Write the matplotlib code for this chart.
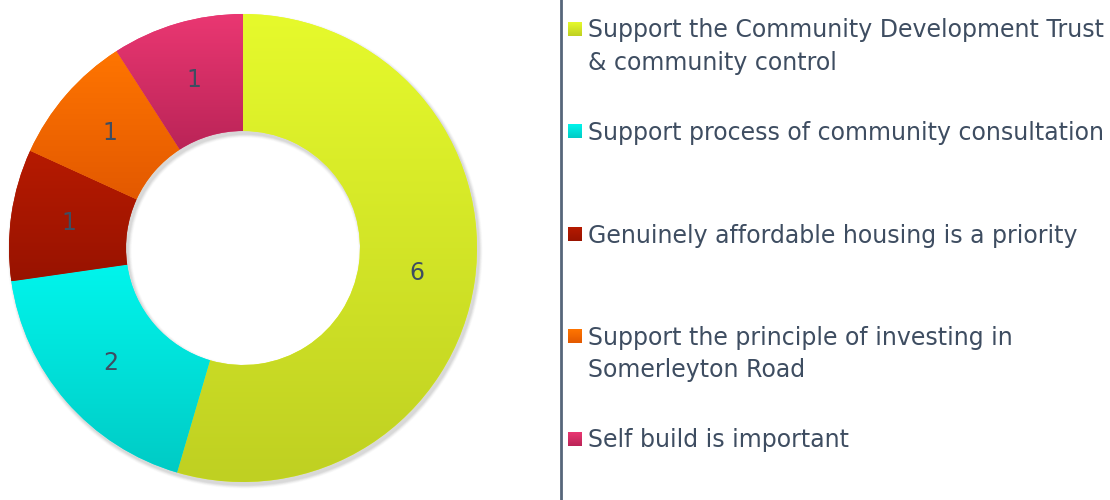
import numpy as np
import matplotlib
matplotlib.use("Agg")
import matplotlib.pyplot as plt
from matplotlib.colors import LinearSegmentedColormap
from matplotlib.patches import Wedge

categories = [
    "Support the Community Development Trust\n& community control",
    "Support process of community consultation",
    "Genuinely affordable housing is a priority",
    "Support the principle of investing in\nSomerleyton Road",
    "Self build is important",
]
values = [6, 2, 1, 1, 1]
top_colors = ["#E6FA2C", "#00F5EC", "#B61A00", "#FF7500", "#EA3772"]
bottom_colors = ["#BFD022", "#00CBC5", "#981300", "#E35900", "#BA2457"]

W, H = 1110, 500
fig = plt.figure(figsize=(W / 100, H / 100), dpi=100)
ax = fig.add_axes([0, 0, 1, 1])

cx, cy = 243, H - 248
R, ring = 234, 117
text_color = "#3E4D61"

# soft shadow
for k, a in zip(range(6, 0, -1), [0.03, 0.04, 0.05, 0.06, 0.07, 0.08]):
    sh = Wedge((cx + 2, cy - 3), R + k * 0.6, 0, 360, width=ring + k * 1.2,
               facecolor="#808080", edgecolor="none", alpha=a, zorder=0)
    ax.add_patch(sh)

wedges, _ = ax.pie(values, colors=top_colors, startangle=90, counterclock=False,
                   radius=R, center=(cx, cy), frame=True,
                   wedgeprops=dict(width=ring, edgecolor="none"))
ax.set_xlim(0, W)
ax.set_ylim(0, H)
ax.set_aspect("equal")
ax.axis("off")

grad = np.linspace(0, 1, 256).reshape(-1, 1)
for w, ct, cb in zip(wedges, top_colors, bottom_colors):
    w.set_zorder(1)
    bb = w.get_path().get_extents(w.get_patch_transform())
    cmap = LinearSegmentedColormap.from_list("g", [cb, ct])
    im = ax.imshow(grad, cmap=cmap, origin="lower", aspect="auto",
                   extent=[bb.x0, bb.x1, bb.y0, bb.y1], zorder=2,
                   interpolation="bilinear")
    im.set_clip_path(w)

# value labels
total = sum(values)
start = 90.0
rmid = R - ring / 2
for v in values:
    theta = np.deg2rad(start - 360.0 * v / total / 2)
    ax.text(cx + rmid * np.cos(theta), cy + rmid * np.sin(theta), str(v),
            ha="center", va="center", fontsize=17, color=text_color, zorder=5)
    start -= 360.0 * v / total

# separator line
ax.plot([561, 561], [0, H], color="#56667A", lw=2, zorder=3)

# legend
step = 102.5
for i, (lab, ct, cb) in enumerate(zip(categories, top_colors, bottom_colors)):
    top = 22 + i * step
    cmap = LinearSegmentedColormap.from_list("g", [cb, ct])
    ax.imshow(grad, cmap=cmap, origin="lower", aspect="auto",
              extent=[568, 582, H - top - 14, H - top], zorder=3,
              interpolation="bilinear")
    for j, line in enumerate(lab.split("\n")):
        ax.text(588, H - (top + 15.5 + j * 32.5), line, ha="left", va="baseline",
                fontsize=17, color=text_color, zorder=4)
ax.set_xlim(0, W)
ax.set_ylim(0, H)

fig.savefig("out.png", dpi=100)
